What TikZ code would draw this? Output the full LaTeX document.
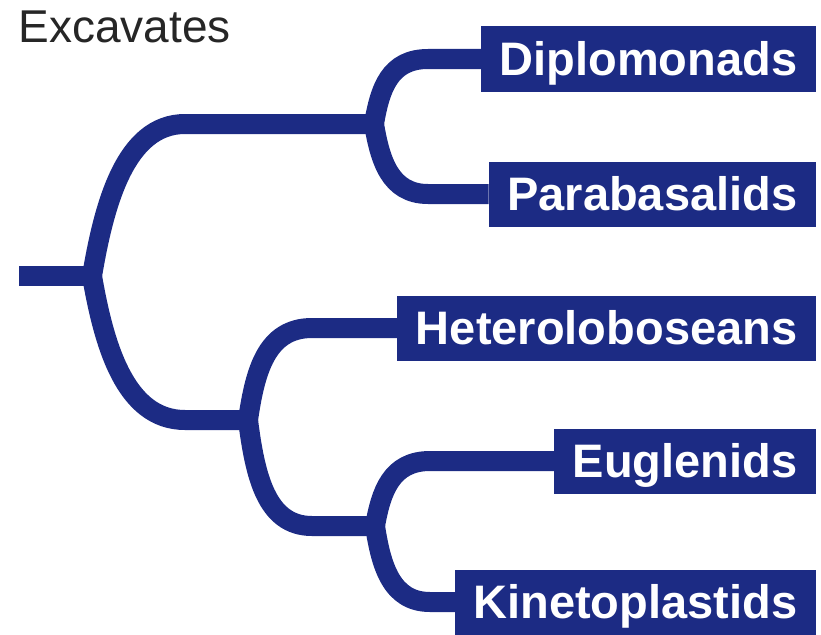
\documentclass[tikz,border=0pt]{standalone}
\usepackage{fontspec}
\setmainfont{Liberation Sans}
\definecolor{navy}{RGB}{28,43,132}
\begin{document}
\begin{tikzpicture}[x=1pt,y=-1pt,
  branch/.style={draw=navy, line width=20pt, line cap=butt, line join=round},
  taxon/.style={fill=navy, text=white, font=\bfseries\fontsize{47}{47}\selectfont,
    anchor=east, minimum height=65pt, inner xsep=18.5pt, inner ysep=0pt,
    text height=33.6pt, text depth=0pt},
  heading/.style={anchor=base west, inner sep=0pt, font=\fontsize{46}{46}\selectfont, text=black!85}]
\useasboundingbox (0,0) rectangle (821,634);
\clip (0,0) rectangle (821,634);
\node[heading] (title) at (18.5,42) {Excavates};
% taxa
\node[taxon] (Dipl)  at (816,59)  {Diplomonads};
\node[taxon] (Parab) at (816,194) {Parabasalids};
\node[taxon] (Het)   at (816,328) {Heteroloboseans};
\node[taxon] (Eugl)  at (816,461) {Euglenids};
\node[taxon] (Kin)   at (816,602) {Kinetoplastids};
% junctions
\coordinate (root) at (19,276);
\coordinate (R) at (92,276);
\coordinate (U) at (374,124);
\coordinate (L) at (248,420);
\coordinate (M) at (375,526);
% connectors
\draw[branch] (root) -- (R);
\draw[branch] (R) .. controls (104,205) and (125,124) .. (185,124) -- (U);
\draw[branch] (R) .. controls (104,345) and (125,420) .. (185,420) -- (L);
\draw[branch] (U) .. controls (380,88) and (390,59) .. (428,59) -- (Dipl.west);
\draw[branch] (U) .. controls (380,160) and (390,194) .. (428,194) -- (Parab.west);
\draw[branch] (L) .. controls (255,372) and (266,328) .. (312,328) -- (Het.west);
\draw[branch] (L) .. controls (255,475) and (266,526) .. (312,526) -- (M);
\draw[branch] (M) .. controls (381,492) and (391,461) .. (430,461) -- (Eugl.west);
\draw[branch] (M) .. controls (381,565) and (391,602) .. (430,602) -- (Kin.west);
\end{tikzpicture}
\end{document}
